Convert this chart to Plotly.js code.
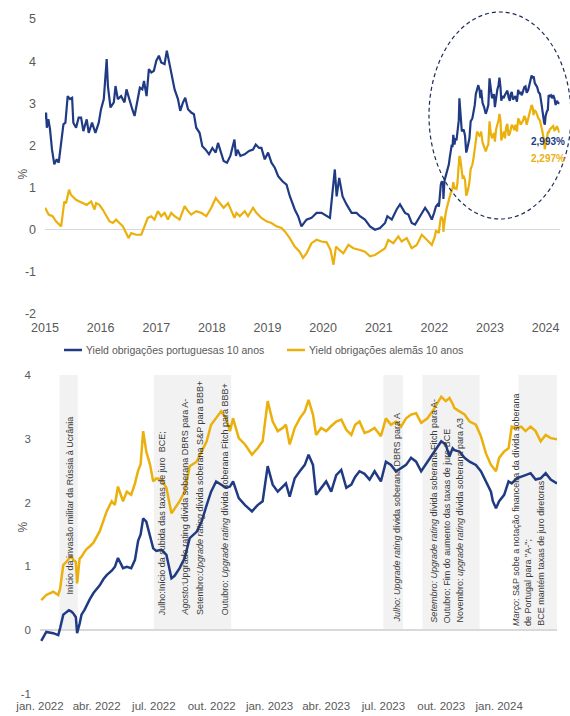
<!DOCTYPE html>
<html>
<head>
<meta charset="utf-8">
<script src="https://cdn.plot.ly/plotly-3.0.1.min.js"></script>
<style>
  html, body { margin: 0; padding: 0; background: #ffffff; }
  #chart { width: 570px; height: 716px; }
</style>
</head>
<body>
<div id="chart"></div>
<script>
// 10-year sovereign bond yields (%), Portugal and Germany

// 2015-2021, Portugal
const earlyDatesPT = ['2015-01-02','2015-01-08','2015-01-13','2015-01-23','2015-02-03','2015-02-16','2015-03-03','2015-03-19','2015-04-01','2015-04-16','2015-05-02','2015-05-15','2015-05-30','2015-06-14','2015-06-28','2015-07-06','2015-07-24','2015-08-10','2015-08-26','2015-09-10','2015-10-02','2015-10-15','2015-11-06','2015-11-28','2015-12-20',
'2016-01-04','2016-01-22','2016-02-10','2016-02-18','2016-03-06','2016-03-28','2016-04-08','2016-04-23','2016-05-15','2016-06-06','2016-06-19','2016-07-11','2016-07-27','2016-08-11','2016-08-29','2016-09-15','2016-10-01','2016-10-12','2016-10-29','2016-11-13','2016-11-29','2016-12-16',
'2017-01-01','2017-01-18','2017-02-02','2017-02-24','2017-03-11','2017-03-29','2017-04-16','2017-05-01','2017-05-23','2017-06-07','2017-06-25','2017-07-10','2017-07-28','2017-08-18','2017-09-05','2017-09-20','2017-10-12','2017-10-30','2017-11-21','2017-12-13',
'2018-01-04','2018-01-26','2018-02-10','2018-02-25','2018-03-19','2018-04-10','2018-05-02','2018-05-29','2018-06-08','2018-06-18','2018-07-07','2018-08-04','2018-09-02','2018-09-28','2018-10-16','2018-11-07','2018-11-22','2018-12-14',
'2019-01-05','2019-01-27','2019-02-18','2019-03-12','2019-04-09','2019-05-06','2019-05-27','2019-06-29','2019-07-21','2019-08-12','2019-09-14','2019-10-17','2019-11-19','2019-12-22',
'2020-01-24','2020-02-15','2020-03-18','2020-03-30','2020-04-16','2020-05-08','2020-06-03','2020-07-06','2020-08-08','2020-08-30','2020-10-02','2020-11-04','2020-12-07',
'2021-01-09','2021-02-11','2021-02-26','2021-03-27','2021-04-28','2021-05-20','2021-06-22','2021-07-14','2021-08-05','2021-08-27','2021-09-29','2021-11-01','2021-11-23','2021-12-15','2021-12-30'];
const earlyPT = [2.62,2.78,2.42,2.62,2.38,1.90,1.55,1.67,1.59,2.06,2.50,2.54,3.17,3.10,3.13,2.54,2.42,2.66,2.66,2.34,2.62,2.30,2.54,2.30,2.54,
2.86,3.10,4.05,3.41,2.90,3.02,3.41,3.10,3.17,3.02,3.33,3.02,2.86,2.70,3.06,3.37,3.33,3.53,3.17,3.81,3.73,3.77,
4.01,4.13,3.97,3.93,4.25,3.89,3.57,3.33,3.10,2.82,3.02,3.13,2.86,2.78,2.74,2.42,2.30,1.98,1.90,1.79,
1.94,1.83,2.06,1.87,1.63,1.59,1.75,2.14,1.75,1.90,1.75,1.79,1.87,1.90,2.02,1.94,1.94,1.67,
1.83,1.59,1.47,1.27,1.15,1.07,0.80,0.48,0.32,0.08,0.24,0.28,0.40,0.40,
0.32,0.28,1.43,0.79,1.23,0.79,0.60,0.40,0.40,0.32,0.24,0.08,0.00,
0.04,0.16,0.32,0.24,0.48,0.60,0.40,0.36,0.16,0.12,0.32,0.52,0.40,0.24,0.40];

// 2015-2021, Germany
const earlyDatesDE = ['2015-01-02','2015-01-08','2015-01-25','2015-02-20','2015-03-14','2015-04-17','2015-04-30','2015-05-08','2015-05-19','2015-06-08','2015-06-20','2015-07-02','2015-07-24','2015-08-15','2015-09-06','2015-10-02','2015-10-31','2015-11-22','2015-12-03','2015-12-24',
'2016-01-15','2016-02-06','2016-02-28','2016-03-21','2016-04-12','2016-05-04','2016-05-26','2016-06-17','2016-07-02','2016-07-20','2016-08-22','2016-09-24','2016-10-16','2016-11-06','2016-11-28','2016-12-20',
'2017-01-11','2017-02-02','2017-02-24','2017-03-18','2017-04-09','2017-05-01','2017-06-03','2017-07-06','2017-07-28','2017-08-18','2017-09-20','2017-10-23','2017-11-25','2017-12-28',
'2018-01-26','2018-02-21','2018-03-19','2018-04-17','2018-05-29','2018-06-11','2018-07-03','2018-08-04','2018-08-26','2018-09-28','2018-10-20','2018-11-22','2018-12-25',
'2019-01-27','2019-03-01','2019-04-03','2019-04-25','2019-05-27','2019-06-29','2019-07-31','2019-08-22','2019-09-14','2019-10-17','2019-11-19','2019-12-22',
'2020-01-24','2020-02-19','2020-03-09','2020-03-26','2020-04-17','2020-05-13','2020-06-15','2020-07-18','2020-08-30','2020-10-02','2020-11-04','2020-12-07',
'2021-01-09','2021-02-11','2021-03-04','2021-04-06','2021-05-09','2021-05-31','2021-07-03','2021-08-05','2021-09-07','2021-10-10','2021-11-12','2021-12-15'];
const earlyDE = [0.52,0.48,0.36,0.32,0.20,0.08,0.48,0.67,0.63,0.95,0.83,0.79,0.71,0.67,0.63,0.59,0.67,0.48,0.63,0.59,
0.48,0.32,0.20,0.16,0.24,0.16,0.08,-0.08,-0.20,-0.08,-0.12,-0.12,0.08,0.28,0.32,0.24,
0.44,0.32,0.40,0.24,0.40,0.32,0.24,0.56,0.44,0.36,0.44,0.40,0.32,0.52,
0.75,0.63,0.52,0.63,0.28,0.40,0.32,0.44,0.32,0.52,0.40,0.28,0.20,
0.16,0.08,0.04,-0.04,-0.20,-0.40,-0.52,-0.67,-0.56,-0.32,-0.24,-0.28,
-0.30,-0.48,-0.83,-0.40,-0.48,-0.56,-0.36,-0.44,-0.48,-0.52,-0.63,-0.60,
-0.52,-0.44,-0.24,-0.32,-0.16,-0.28,-0.20,-0.44,-0.36,-0.12,-0.24,-0.36];

// 2022 onwards, both countries
const recentDates = ['2022-01-03','2022-01-11','2022-01-22','2022-01-30','2022-02-02','2022-02-07','2022-02-12','2022-02-16','2022-02-20','2022-02-23','2022-02-27','2022-03-01','2022-03-05','2022-03-08','2022-03-13','2022-03-16','2022-03-21','2022-03-27','2022-04-06','2022-04-12','2022-04-17','2022-04-25','2022-04-30','2022-05-05','2022-05-13','2022-05-19','2022-05-26','2022-06-01','2022-06-06','2022-06-10','2022-06-14','2022-06-19','2022-06-25','2022-06-30','2022-07-05','2022-07-13','2022-07-21','2022-07-29','2022-08-03','2022-08-11','2022-08-19','2022-08-27','2022-09-07','2022-09-15','2022-09-23','2022-09-30','2022-10-08','2022-10-16','2022-10-24','2022-10-30','2022-11-04','2022-11-13','2022-11-23','2022-12-04','2022-12-13','2022-12-21','2022-12-29',
'2023-01-06','2023-01-14','2023-01-22','2023-01-27','2023-02-02','2023-02-10','2023-02-18','2023-02-26','2023-03-04','2023-03-11','2023-03-16','2023-03-24','2023-04-01','2023-04-09','2023-04-17','2023-04-25','2023-05-03','2023-05-11','2023-05-17','2023-05-24','2023-06-01','2023-06-09','2023-06-17','2023-06-27','2023-07-05','2023-07-13','2023-07-21','2023-07-29','2023-08-06','2023-08-14','2023-08-22','2023-08-30','2023-09-09','2023-09-17','2023-09-23','2023-10-01','2023-10-08','2023-10-14','2023-10-19','2023-10-22','2023-10-30','2023-11-07','2023-11-15','2023-11-25','2023-12-03','2023-12-11','2023-12-19','2023-12-22','2023-12-27',
'2024-01-01','2024-01-09','2024-01-16','2024-01-21','2024-01-29','2024-02-05','2024-02-12','2024-02-20','2024-02-28','2024-03-07','2024-03-15','2024-03-23','2024-04-02'];
const recentPT = [0.47,0.55,0.60,0.55,0.65,1.02,1.07,1.12,1.15,1.10,1.07,0.73,1.12,1.15,1.23,1.27,1.31,1.37,1.55,1.72,1.86,2.02,1.96,2.25,2.02,2.17,2.12,2.30,2.50,2.60,3.12,2.80,2.59,2.33,2.38,2.36,2.23,1.83,1.90,2.02,2.17,2.57,2.64,2.80,2.96,3.22,3.32,3.43,3.32,3.12,3.32,3.01,2.91,2.75,2.85,2.96,3.59,
3.27,3.12,3.17,3.22,2.91,3.17,3.32,3.43,3.61,3.38,3.06,3.17,3.12,3.20,3.27,3.30,3.14,3.06,3.22,3.27,3.09,3.12,3.17,3.04,3.32,3.22,3.27,3.19,3.32,3.38,3.40,3.25,3.32,3.43,3.53,3.66,3.59,3.64,3.55,3.48,3.43,3.38,3.27,3.22,3.04,2.77,2.59,2.55,2.49,
2.70,2.80,2.85,3.19,3.17,3.19,3.12,3.19,3.12,2.96,3.06,3.01,2.993];
const recentDE = [-0.17,-0.03,-0.05,-0.08,0.03,0.24,0.28,0.31,0.29,0.26,0.20,-0.05,0.10,0.24,0.32,0.39,0.48,0.58,0.70,0.80,0.86,0.93,0.99,1.13,0.97,0.99,0.97,1.10,1.40,1.50,1.75,1.70,1.49,1.28,1.24,1.26,1.18,0.81,0.85,0.97,1.13,1.44,1.54,1.70,1.96,2.17,2.33,2.28,2.23,2.25,2.33,2.07,1.96,1.86,1.96,2.02,2.57,
2.28,2.17,2.25,2.30,2.09,2.38,2.49,2.59,2.75,2.59,2.12,2.23,2.33,2.17,2.43,2.51,2.23,2.28,2.40,2.49,2.45,2.36,2.49,2.33,2.64,2.59,2.49,2.54,2.59,2.70,2.64,2.49,2.64,2.75,2.83,2.96,2.91,2.72,2.85,2.82,2.80,2.70,2.64,2.59,2.49,2.33,2.17,2.02,1.91,
2.02,2.12,2.33,2.30,2.38,2.41,2.43,2.46,2.36,2.38,2.46,2.36,2.297];

// Event periods (shaded) and their notes
const eventStart = ['2022-02-01','2022-07-01','2023-07-01','2023-09-01','2024-02-01'];
const eventEnd   = ['2022-03-02','2022-11-01','2023-08-01','2023-12-01','2024-04-02'];
const noteDates = ['2022-02-17','2022-07-14','2022-08-19','2022-09-12','2022-10-22','2023-07-22','2023-09-19','2023-10-10','2023-10-31','2024-01-27','2024-02-15','2024-03-07'];
const noteTexts = [
  'Início da invasão militar da Rússia à Ucrânia',
  'Julho:Início da subida das taxas de juro  BCE;',
  '<i>Agosto:</i>Upgrade rating dívida soberana DBRS para A-',
  'Setembro:<i>Upgrade rating</i> dívida soberana S&amp;P para BBB+',
  'Outubro: <i>Upgrade rating</i> dívida soberana Fitch para BBB+',
  '<i>Julho: Upgrade rating</i> dívida soberana DBRS para A',
  '<i>Setembro: Upgrade rating</i> dívida soberana Fitch para A-',
  'Outubro: Fim do aumento das taxas de juro BCE',
  'Novembro: <i>upgrade rating</i> dívida soberana para A3',
  '<i>Março</i>: S&amp;P sobe a notação financeira da dívida soberana',
  'de Portugal para "A-";',
  'BCE mantém taxas de juro diretoras'
];

// Axis ticks
const yearTicks = ['2015-01-01','2016-01-01','2017-01-01','2018-01-01','2019-01-01','2020-01-01','2021-01-01','2022-01-01','2023-01-01','2024-01-01'];
const yearLabels = ['2015','2016','2017','2018','2019','2020','2021','2022','2023','2024'];
const topYTicks = [-2,-1,0,1,2,3,4,5];
const topYLabels = ['-2','-1','0','1','2','3','4','5'];
const quarterTicks = ['2022-01-01','2022-04-01','2022-07-01','2022-10-01','2023-01-01','2023-04-01','2023-07-01','2023-10-01','2024-01-01'];
const quarterLabels = ['jan. 2022','abr. 2022','jul. 2022','out. 2022','jan. 2023','abr. 2023','jul. 2023','out. 2023','jan. 2024'];
const botYTicks = [-1,0,1,2,3,4];
const botYLabels = ['-1','0','1','2','3','4'];

const seriesNames = ['Yield obrigações portuguesas 10 anos', 'Yield obrigações alemãs 10 anos'];

// ---- drawing ----
const W = 570, H = 716;
const px = x => x / W;
const py = y => 1 - y / H;

const BLUE = '#203b83';
const GOLD = '#ebb00c';
const GREY = '#595959';
const FONT = 'Liberation Sans, Arial, sans-serif';

const datesPT = earlyDatesPT.concat(recentDates);
const valuesPT = earlyPT.concat(recentPT);
const datesDE = earlyDatesDE.concat(recentDates);
const valuesDE = earlyDE.concat(recentDE);

const traces = [
  { x: datesPT, y: valuesPT, xaxis: 'x', yaxis: 'y', type: 'scatter', mode: 'lines',
    line: { color: BLUE, width: 2.2 }, name: seriesNames[0], showlegend: false, hoverinfo: 'skip' },
  { x: datesDE, y: valuesDE, xaxis: 'x', yaxis: 'y', type: 'scatter', mode: 'lines',
    line: { color: GOLD, width: 2.2 }, name: seriesNames[1], showlegend: false, hoverinfo: 'skip' },
  // lower panel: 2022 onwards
  { x: recentDates, y: recentDE, xaxis: 'x2', yaxis: 'y2', type: 'scatter', mode: 'lines',
    line: { color: BLUE, width: 2.5 }, showlegend: false, hoverinfo: 'skip' },
  { x: recentDates, y: recentPT, xaxis: 'x2', yaxis: 'y2', type: 'scatter', mode: 'lines',
    line: { color: GOLD, width: 2.5 }, showlegend: false, hoverinfo: 'skip' }
];

const tickFontTop = { family: FONT, size: 12.5, color: GREY };
const tickFontBot = { family: FONT, size: 11.5, color: GREY };

const shapes = [];
eventStart.forEach((s, i) => {
  shapes.push({ type: 'rect', xref: 'x2', yref: 'y2', x0: s, x1: eventEnd[i], y0: 0, y1: 4,
    fillcolor: '#f2f2f2', line: { width: 0 }, layer: 'below' });
});
// highlight ellipse around the recent period
shapes.push({ type: 'circle', xref: 'paper', yref: 'paper',
  x0: px(429), x1: px(571), y0: py(219), y1: py(12),
  line: { color: '#1d2b57', width: 1.2, dash: '4px,3px' } });
// legend swatches
shapes.push({ type: 'line', xref: 'paper', yref: 'paper', x0: px(64), x1: px(82), y0: py(350), y1: py(350),
  line: { color: BLUE, width: 2.5 } });
shapes.push({ type: 'line', xref: 'paper', yref: 'paper', x0: px(287), x1: px(305), y0: py(350), y1: py(350),
  line: { color: GOLD, width: 2.5 } });

const fmt = v => v.toFixed(3).replace('.', ',') + '%';
const lastPT = recentPT[recentPT.length - 1];
const lastDE = recentDE[recentDE.length - 1];

const annotations = [
  { xref: 'paper', yref: 'paper', x: px(14), y: py(167), text: '%', showarrow: false, textangle: -90,
    font: { family: FONT, size: 12, color: GREY } },
  { xref: 'paper', yref: 'paper', x: px(13), y: py(535), text: '%', showarrow: false, textangle: -90,
    font: { family: FONT, size: 12, color: GREY } },
  { xref: 'x', yref: 'y', x: '2024-01-16', y: 2.09, text: '<b>' + fmt(lastPT) + '</b>', showarrow: false,
    font: { family: FONT, size: 10, color: BLUE } },
  { xref: 'x', yref: 'y', x: '2024-01-16', y: 1.68, text: '<b>' + fmt(lastDE) + '</b>', showarrow: false,
    font: { family: FONT, size: 10, color: GOLD } },
  { xref: 'paper', yref: 'paper', x: px(84), y: py(350), xanchor: 'left', yanchor: 'middle',
    text: seriesNames[0], showarrow: false, font: { family: FONT, size: 10.5, color: GREY } },
  { xref: 'paper', yref: 'paper', x: px(307), y: py(350), xanchor: 'left', yanchor: 'middle',
    text: seriesNames[1], showarrow: false, font: { family: FONT, size: 10.5, color: GREY } }
];

// baseline (value on the lower axis) where each note starts
const noteBase = [0.52, 0.2, 0.2, 0.2, 0.2, 0.08, 0.08, 0.08, 0.08, 0.03, 0.03, 0.03];
noteTexts.forEach((t, i) => {
  annotations.push({ xref: 'x2', yref: 'y2', x: noteDates[i], y: noteBase[i],
    xanchor: 'center', yanchor: 'bottom', textangle: -90, showarrow: false, text: t,
    font: { family: FONT, size: 9, color: '#3a3a3a' } });
});

const layout = {
  width: W, height: H, autosize: false,
  margin: { l: 0, r: 0, t: 0, b: 0 },
  paper_bgcolor: '#ffffff', plot_bgcolor: 'rgba(0,0,0,0)',
  font: { family: FONT, color: GREY },
  showlegend: false,
  xaxis: { domain: [px(45), px(559.6)], range: ['2015-01-01', '2024-04-02'], anchor: 'y', type: 'date',
    tickvals: yearTicks, ticktext: yearLabels, ticks: '', showgrid: false, zeroline: false, showline: false,
    tickfont: tickFontTop, ticklabelstandoff: 4, fixedrange: true },
  yaxis: { domain: [py(314), py(19)], range: [-2, 5], anchor: 'x',
    tickvals: topYTicks, ticktext: topYLabels, ticks: '', showgrid: false,
    zeroline: true, zerolinecolor: '#d9d9d9', zerolinewidth: 1.2, showline: false,
    tickfont: tickFontTop, ticklabelstandoff: 8, fixedrange: true },
  xaxis2: { domain: [px(40), px(557)], range: ['2022-01-01', '2024-04-02'], anchor: 'y2', type: 'date',
    tickvals: quarterTicks, ticktext: quarterLabels, ticks: '', showgrid: false, zeroline: false, showline: false,
    tickfont: tickFontBot, ticklabelstandoff: 4, fixedrange: true },
  yaxis2: { domain: [py(693.75), py(375)], range: [-1, 4], anchor: 'x2',
    tickvals: botYTicks, ticktext: botYLabels, ticks: '', showgrid: false,
    zeroline: true, zerolinecolor: '#d9d9d9', zerolinewidth: 1.2, showline: false,
    tickfont: tickFontBot, ticklabelstandoff: 8, fixedrange: true },
  shapes: shapes,
  annotations: annotations
};

Plotly.newPlot('chart', traces, layout, { displayModeBar: false, staticPlot: true });
</script>
</body>
</html>
